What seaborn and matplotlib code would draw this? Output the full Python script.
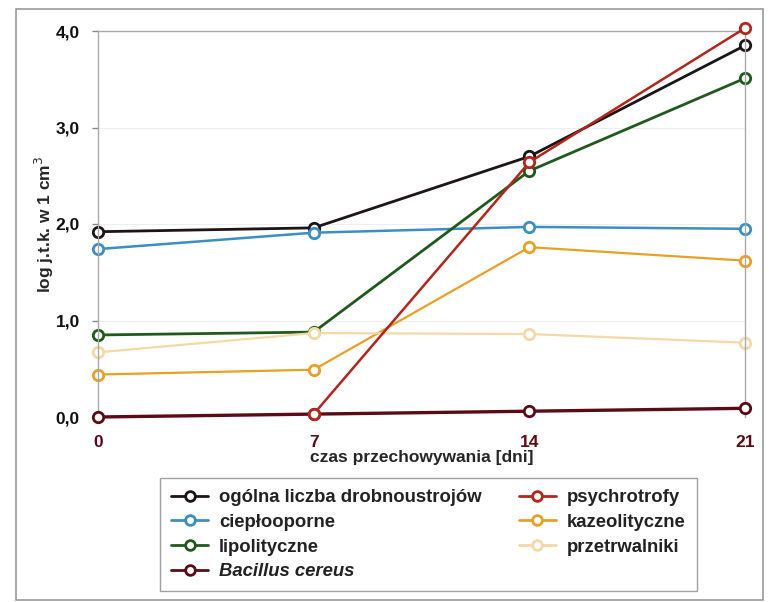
import numpy as np
import pandas as pd
import seaborn as sns
import matplotlib
matplotlib.use("Agg")
import matplotlib.pyplot as plt
from matplotlib.patches import Rectangle

days = [0, 7, 14, 21]
series_names = ["ogólna liczba drobnoustrojów", "ciepłooporne", "lipolityczne",
                "Bacillus cereus", "psychrotrofy", "kazeolityczne", "przetrwalniki"]
ogolna = [1.92, 1.96, 2.70, 3.85]
cieplooporne = [1.74, 1.91, 1.97, 1.95]
lipolityczne = [0.85, 0.88, 2.55, 3.51]
bacillus = [0.00, 0.03, 0.06, 0.09]
psychrotrofy = [np.nan, 0.03, 2.64, 4.03]
kazeolityczne = [0.44, 0.49, 1.76, 1.62]
przetrwalniki = [0.67, 0.87, 0.86, 0.77]
y_ticks = [0.0, 1.0, 2.0, 3.0, 4.0]
y_ticklabels = ["0,0", "1,0", "2,0", "3,0", "4,0"]

values = [ogolna, cieplooporne, lipolityczne, bacillus, psychrotrofy, kazeolityczne, przetrwalniki]
colors = ["#1c1418", "#3b8fc2", "#1f5a1c", "#5c0b16", "#b3261c", "#e9a024", "#f4d8a6"]
widths = [2.0, 1.8, 2.0, 2.4, 1.8, 1.6, 1.6]

sns.set_theme(style="white")
plt.rcParams['font.family'] = ['Liberation Sans', 'DejaVu Sans']

fig = plt.figure(figsize=(7.69, 6.02), dpi=100)
ax = fig.add_axes([98/769, 1-417/602, (745-98)/769, (417-31)/602])

# outer frame
fig.patches.append(Rectangle((16/769, 2/602), (763-16)/769, (593-2)/602, transform=fig.transFigure,
                             fill=False, edgecolor="#9a9a9a", linewidth=1.2))

rows = []
for name, vals in zip(series_names, values):
    for d, v in zip(days, vals):
        rows.append({"day": d, "val": v, "series": name})
df = pd.DataFrame(rows)

order_z = {"Bacillus cereus": 3, "psychrotrofy": 4}
handles = []
for name, col, lw in zip(series_names, colors, widths):
    sub = df[df.series == name].dropna()
    sns.lineplot(data=sub, x="day", y="val", ax=ax, color=col, linewidth=lw,
                 marker="o", markersize=7.5, markerfacecolor="white",
                 markeredgecolor=col, markeredgewidth=2, clip_on=False,
                 zorder=order_z.get(name, 2), legend=False)
    h, = ax.plot([], [], color=col, linewidth=2, marker="o", markersize=7,
                 markerfacecolor="white", markeredgecolor=col, markeredgewidth=2)
    handles.append(h)

ax.set_xlim(0, 21)
ax.set_ylim(0, 4.0)
ax.set_xticks(days)
ax.set_xticklabels([str(d) for d in days], fontsize=12.5, fontweight="bold", color="#5c0b16")
ax.set_yticks(y_ticks)
ax.set_yticklabels(y_ticklabels, fontsize=12.5, fontweight="bold", color="#111111")
ax.tick_params(axis="x", length=0, pad=13)
ax.tick_params(axis="y", length=4, width=1, color="#888888", pad=9, left=True)
for y in [1.0, 2.0, 3.0]:
    ax.axhline(y, color="#eeeeee", linewidth=0.8, zorder=0)

for s in ["left", "top", "right"]:
    ax.spines[s].set_color("#aaaaaa")
    ax.spines[s].set_linewidth(1.0)
ax.spines["bottom"].set_visible(False)

ax.set_xlabel("czas przechowywania [dni]", fontsize=12.5, fontweight="bold", labelpad=0)
ax.set_ylabel("log j.t.k. w 1 cm$^3$", fontsize=12.5, fontweight="bold", labelpad=0)

leg = fig.legend(handles, series_names, loc="upper left",
                 bbox_to_anchor=(160/769, 1-478/602), borderaxespad=0, ncol=2, frameon=True,
                 fontsize=13.3, handlelength=2.0, handletextpad=0.6,
                 columnspacing=2.0, labelspacing=0.42, borderpad=0.6,
                 fancybox=False, edgecolor="#888888")
leg.get_frame().set_linewidth(1.0)
for t in leg.get_texts():
    t.set_fontweight("bold")
    t.set_color("#222222")
leg.get_texts()[3].set_style("italic")

fig.savefig("out.png", dpi=100)
